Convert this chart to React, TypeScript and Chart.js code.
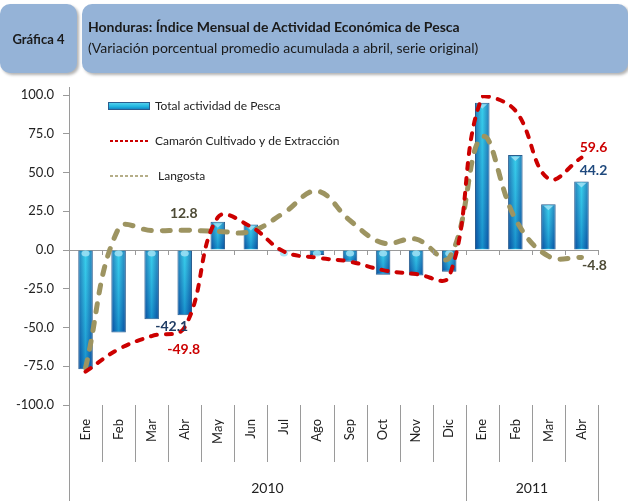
import React, { useEffect, useRef } from "react";
import { Chart, registerables } from "chart.js";

Chart.register(...registerables);

const FONT = "Lato, 'Open Sans', sans-serif";

const months = ["Ene", "Feb", "Mar", "Abr", "May", "Jun", "Jul", "Ago", "Sep", "Oct", "Nov", "Dic", "Ene", "Feb", "Mar", "Abr"];
const years = ["2010", "2011"];
const yearSpans = [12, 4];
const totalPesca = [-77.0, -53.3, -44.7, -42.1, 18.3, 16.5, -0.5, -3.2, -7.5, -16.0, -16.5, -14.0, 95.0, 61.3, 29.5, 44.2];
const camaron = [-78.5, -64.0, -55.5, -49.8, 21.0, 15.0, -1.0, -5.0, -7.5, -13.0, -15.5, -17.0, 99.0, 90.0, 46.0, 59.6];
const langosta = [-76.0, 14.0, 12.5, 12.8, 12.0, 12.0, 24.0, 38.0, 19.0, 4.5, 7.0, -5.0, 73.0, 20.0, -4.0, -4.8];
const yTicks = { min: -100, max: 100, step: 25 };
const seriesNames = ["Total actividad de Pesca", "Camarón Cultivado y de Extracción", "Langosta"];

const RED = "#cc0000";
const OLIVE = "#9d9461";

const BAR_W = 14.5;

const overlayPlugin = {
  id: "overlay",
  afterDatasetDraw(chart: any, args: any) {
    if (args.meta.type !== "bar") return;
    const ctx = chart.ctx;
    ctx.save();
    args.meta.data.forEach((el: any) => {
      const { x, y, base, width } = el.getProps(["x", "y", "base", "width"], true);
      const top = Math.min(y, base);
      const bot = Math.max(y, base);
      const l = x - width / 2;
      const g = ctx.createLinearGradient(0, top, 0, bot);
      g.addColorStop(0, "rgba(120,230,250,0.25)");
      g.addColorStop(1, "rgba(0,40,150,0.35)");
      ctx.fillStyle = g;
      ctx.fillRect(l + 1, top + 1, width - 2, bot - top - 2);
      ctx.fillStyle = "rgba(160,225,245,0.85)";
      if (y < base) {
        ctx.beginPath();
        ctx.moveTo(l + 2.5, top + 1.5);
        ctx.lineTo(l + width - 2.5, top + 1.5);
        ctx.lineTo(x, top + 6);
        ctx.closePath();
        ctx.fill();
      } else {
        ctx.beginPath();
        ctx.ellipse(x, top + 3, 4, 3, 0, 0, Math.PI * 2);
        ctx.fill();
      }
    });
    ctx.restore();
  },
  afterDraw(chart: any) {
    const ctx = chart.ctx;
    const xs = chart.scales.x;
    const ys = chart.scales.y;
    const area = chart.chartArea;
    const n = months.length;
    const cw = (area.right - area.left) / n;
    const y0 = ys.getPixelForValue(0);
    ctx.save();
    ctx.strokeStyle = "#9a9a9a";
    ctx.lineWidth = 1;
    // y axis full line
    ctx.beginPath();
    ctx.moveTo(area.left + 0.5, area.top - 8);
    ctx.lineTo(area.left + 0.5, chart.height);
    ctx.stroke();
    // zero line ticks
    for (let i = 1; i <= n; i++) {
      const px = Math.round(area.left + i * cw) + 0.5;
      ctx.beginPath();
      ctx.moveTo(px, y0);
      ctx.lineTo(px, y0 + 5);
      ctx.stroke();
    }
    // separators in label area
    const yearBounds: number[] = [];
    let acc = 0;
    yearSpans.forEach((s) => {
      acc += s;
      yearBounds.push(acc);
    });
    for (let i = 1; i <= n; i++) {
      const px = Math.round(area.left + i * cw) + 0.5;
      const longLine = yearBounds.includes(i);
      ctx.beginPath();
      ctx.moveTo(px, area.bottom);
      ctx.lineTo(px, longLine ? chart.height : area.bottom + 57);
      ctx.stroke();
    }
    // year labels
    ctx.fillStyle = "#222";
    ctx.font = `14px ${FONT}`;
    ctx.textAlign = "center";
    ctx.textBaseline = "middle";
    let start = 0;
    years.forEach((yr, k) => {
      const a = area.left + start * cw;
      const b = area.left + (start + yearSpans[k]) * cw;
      ctx.fillText(yr, (a + b) / 2, area.bottom + 83);
      start += yearSpans[k];
    });

    // legend
    const lx = area.left + 39;
    const ly = area.top + 11;
    const g = ctx.createLinearGradient(0, ly - 4, 0, ly + 5);
    g.addColorStop(0, "#5fd8f0");
    g.addColorStop(0.5, "#1fb4e0");
    g.addColorStop(1, "#0a62b0");
    ctx.fillStyle = g;
    ctx.fillRect(lx, ly - 4, 42, 8);
    ctx.strokeStyle = "#2a5d8f";
    ctx.strokeRect(lx + 0.5, ly - 3.5, 41, 7);
    ctx.font = `12px ${FONT}`;
    ctx.textAlign = "left";
    ctx.fillStyle = "#222";
    ctx.fillText(seriesNames[0], lx + 47, ly);
    ctx.setLineDash([3, 2]);
    ctx.lineWidth = 2;
    ctx.strokeStyle = RED;
    ctx.beginPath();
    ctx.moveTo(lx + 2, ly + 35);
    ctx.lineTo(lx + 40, ly + 35);
    ctx.stroke();
    ctx.fillText(seriesNames[1], lx + 47, ly + 35);
    ctx.strokeStyle = OLIVE;
    ctx.lineWidth = 1.5;
    ctx.beginPath();
    ctx.moveTo(lx + 2, ly + 70);
    ctx.lineTo(lx + 42, ly + 70);
    ctx.stroke();
    ctx.fillText(seriesNames[2], lx + 50, ly + 70);
    ctx.setLineDash([]);

    // data labels
    const lab = (txt: string, i: number, v: number, dx: number, dy: number, col: string) => {
      ctx.font = `bold 14px ${FONT}`;
      ctx.fillStyle = col;
      ctx.textAlign = "center";
      ctx.textBaseline = "middle";
      ctx.fillText(txt, xs.getPixelForValue(i) + dx, ys.getPixelForValue(v) + dy);
    };
    const fmt = (v: number) => v.toFixed(1);
    lab(fmt(langosta[3]), 3, langosta[3], -1, -17, "#4d4a35");
    lab(fmt(totalPesca[3]), 3, totalPesca[3], -13, 11, "#1f3c64");
    lab(fmt(camaron[3]), 3, camaron[3], -1, 22, RED);
    lab(fmt(camaron[15]), 15, camaron[15], 12, -10, RED);
    lab(fmt(totalPesca[15]), 15, totalPesca[15], 12, -11, "#1f497d");
    lab(fmt(langosta[15]), 15, langosta[15], 13, 8, "#4d4a35");
    ctx.restore();
  },
};

export default function App() {
  const ref = useRef<HTMLCanvasElement | null>(null);
  useEffect(() => {
    document.body.style.margin = "0";
    const canvas = ref.current!;
    const chart = new Chart(canvas, {
      type: "bar",
      data: {
        labels: months,
        datasets: [
          {
            type: "bar",
            label: seriesNames[0],
            data: totalPesca,
            order: 3,
            barPercentage: 0.44,
            categoryPercentage: 1,
            borderColor: "#2a5d8f",
            borderWidth: 1,
            backgroundColor: (c: any) => {
              const ch = c.chart;
              if (!ch.chartArea) return "#1a8fd0";
              const x = ch.scales.x.getPixelForValue(c.dataIndex);
              const g = ch.ctx.createLinearGradient(x - BAR_W / 2, 0, x + BAR_W / 2, 0);
              g.addColorStop(0, "#0b5aa0");
              g.addColorStop(0.5, "#24c8e8");
              g.addColorStop(1, "#0b5aa0");
              return g;
            },
          } as any,
          {
            type: "line",
            label: seriesNames[1],
            data: camaron,
            order: 1,
            borderColor: RED,
            borderWidth: 4,
            borderDash: [6, 9],
            borderCapStyle: "round",
            tension: 0.4,
            pointRadius: 0,
            fill: false,
          } as any,
          {
            type: "line",
            label: seriesNames[2],
            data: langosta,
            order: 2,
            borderColor: OLIVE,
            borderWidth: 5,
            borderDash: [8, 11],
            borderCapStyle: "round",
            tension: 0.4,
            pointRadius: 0,
            fill: false,
          } as any,
        ],
      },
      options: {
        animation: false,
        responsive: false,
        maintainAspectRatio: false,
        layout: { padding: { left: 0, right: 30, top: 95, bottom: 0 } },
        plugins: { legend: { display: false }, tooltip: { enabled: false } },
        scales: {
          x: {
            grid: { display: false, drawTicks: false },
            border: { display: false },
            ticks: {
              minRotation: 90,
              maxRotation: 90,
              autoSkip: false,
              padding: 14,
              color: "#222",
              font: { family: FONT, size: 13 },
            },
            afterFit: (s: any) => {
              s.height = 96;
            },
          },
          y: {
            min: yTicks.min,
            max: yTicks.max,
            border: { display: false },
            grid: {
              color: (c: any) => (c.tick && c.tick.value === 0 ? "#9a9a9a" : "rgba(0,0,0,0)"),
              tickColor: "#9a9a9a",
              tickLength: 6,
            },
            ticks: {
              stepSize: yTicks.step,
              padding: 9,
              color: "#222",
              font: { family: FONT, size: 13 },
              callback: (v: any) => Number(v).toFixed(1),
            },
            afterFit: (s: any) => {
              s.width = 69;
            },
          },
        },
      },
      plugins: [overlayPlugin],
    });
    return () => chart.destroy();
  }, []);

  const box: React.CSSProperties = {
    position: "absolute",
    top: 4,
    height: 69,
    background: "#95b3d7",
    borderRadius: 10,
    boxShadow: "2px 2px 3px rgba(0,0,0,0.3)",
    fontFamily: FONT,
    color: "#1a1a1a",
  };

  return (
    <div style={{ position: "absolute", left: 0, top: 0, width: 628, height: 501, background: "#fff", overflow: "hidden" }}>
      <canvas ref={ref} width={628} height={501} style={{ position: "absolute", left: 0, top: 0, width: 628, height: 501 }} />
      <div style={{ ...box, left: 0, width: 77, display: "flex", alignItems: "center", justifyContent: "center" }}>
        <span style={{ fontWeight: "bold", fontSize: 13 }}>Gráfica 4</span>
      </div>
      <div style={{ ...box, left: 82, width: 546 }}>
        <div style={{ position: "absolute", left: 6, top: 14, fontWeight: "bold", fontSize: 14, whiteSpace: "nowrap" }}>
          Honduras: Índice Mensual de Actividad Económica de Pesca
        </div>
        <div style={{ position: "absolute", left: 6, top: 35, fontSize: 14, whiteSpace: "nowrap" }}>
          (Variación porcentual promedio acumulada a abril, serie original)
        </div>
      </div>
    </div>
  );
}
